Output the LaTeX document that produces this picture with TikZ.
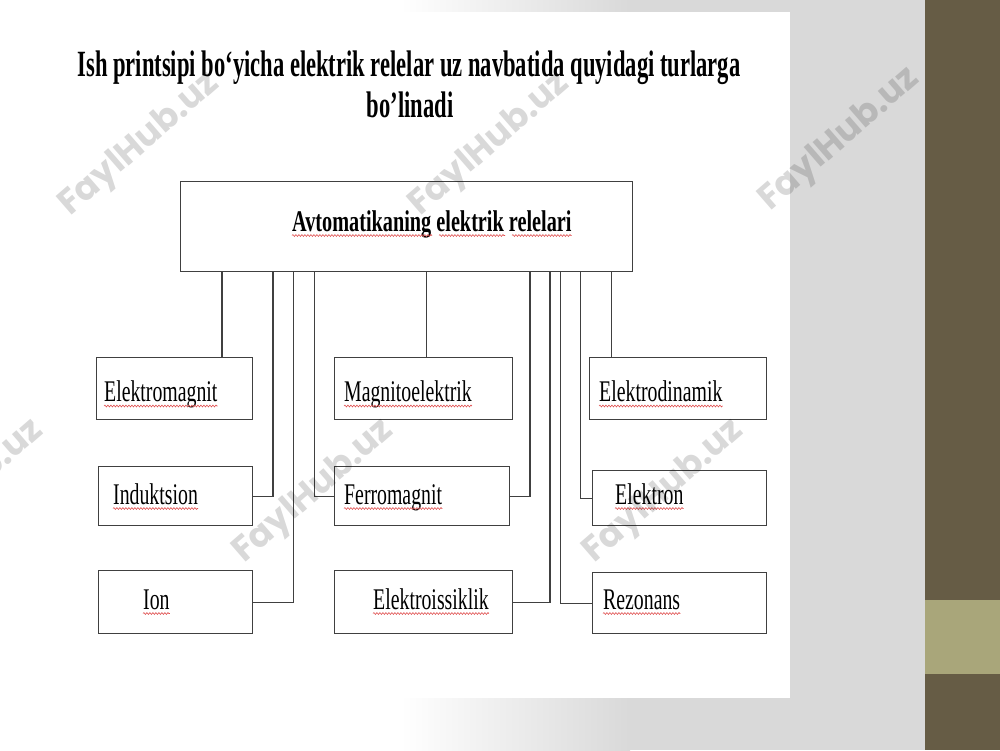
\documentclass[tikz,border=0pt]{standalone}
\usepackage{fontspec}
\setmainfont{Liberation Serif}
\newfontfamily\nar[FakeStretch=0.66]{Liberation Serif}
\newfontfamily\narT[FakeStretch=0.61]{Liberation Serif}
\newfontfamily\narB[FakeStretch=0.675]{Liberation Serif}
\newfontfamily\wmfont{Poppins}
\usetikzlibrary{decorations.pathmorphing}
\definecolor{bg}{HTML}{D9D9D9}
\definecolor{bar}{HTML}{665C45}
\definecolor{barl}{HTML}{A9A67A}
\definecolor{ln}{HTML}{404040}
\definecolor{spell}{HTML}{E05050}
\begin{document}
\begin{tikzpicture}[x=1pt,y=-1pt,
 box/.style={draw=ln,line width=1.4pt,fill=white,inner sep=0pt,anchor=north west},
 lbl/.style={inner sep=0pt,anchor=base west,font=\nar\fontsize{30}{36}\selectfont},
 toplbl/.style={inner sep=0pt,anchor=base west,font=\narB\bfseries\fontsize{30}{36}\selectfont},
 ttl/.style={inner sep=0pt,anchor=base,font=\narT\bfseries\fontsize{37}{44}\selectfont},
 conn/.style={draw=ln,line width=1.4pt},
 wmk/.style={font=\wmfont\bfseries\fontsize{35}{35}\selectfont,text=black,text opacity=0.15,rotate=41,inner sep=0pt},
 spellc/.style={draw=spell,line width=0.6pt,decorate,decoration={snake,segment length=3pt,amplitude=0.9pt}}]
\useasboundingbox (0,0) rectangle (1000,750);
\clip (0,0) rectangle (1000,750);
% background
\fill[bg] (0,0) rectangle (1000,750);
\fill[white] (0,0) rectangle (400,750);
\shade[left color=white,right color=bg] (400,0) rectangle (630,750);
\fill[white] (0,12) rectangle (790,698);
\fill[bar] (925,0) rectangle (1000,750);
\fill[barl] (925,600) rectangle (1000,674);
% title
\node[ttl] (t1) at (409,76) {Ish printsipi bo‘yicha elektrik relelar uz navbatida quyidagi turlarga};
\node[ttl] (t2) at (410,117) {bo’linadi};
% boxes
\node[box,minimum width=452pt,minimum height=90pt] (top) at (180,181) {};
\node[box,minimum width=156pt,minimum height=62pt] (em) at (96,357) {};
\node[box,minimum width=154pt,minimum height=59pt] (ind) at (98,466) {};
\node[box,minimum width=154pt,minimum height=63pt] (ion) at (98,570) {};
\node[box,minimum width=178pt,minimum height=62pt] (mag) at (334,357) {};
\node[box,minimum width=175pt,minimum height=59pt] (fer) at (334,466) {};
\node[box,minimum width=178pt,minimum height=63pt] (eis) at (334,570) {};
\node[box,minimum width=177pt,minimum height=62pt] (edn) at (589,357) {};
\node[box,minimum width=174pt,minimum height=55pt] (etr) at (592,470) {};
\node[box,minimum width=174pt,minimum height=61pt] (rez) at (592,572) {};
% connectors
\draw[conn] ([xshift=42pt]top.south west) -- ([xshift=42pt]top.south west |- em.north);
\draw[conn] ([xshift=93pt]top.south west) |- (ind.east);
\draw[conn] ([xshift=113.7pt]top.south west) |- (ion.east);
\draw[conn] ([xshift=134.3pt]top.south west) |- (fer.west);
\draw[conn] ([xshift=246.7pt]top.south west) -- ([xshift=246.7pt]top.south west |- mag.north);
\draw[conn] ([xshift=350pt]top.south west) |- (fer.east);
\draw[conn] ([xshift=370pt]top.south west) |- (eis.east);
\draw[conn] ([xshift=380.7pt]top.south west) |- (rez.west);
\draw[conn] ([xshift=400.7pt]top.south west) |- (etr.west);
\draw[conn] ([xshift=431.7pt]top.south west) -- ([xshift=431.7pt]top.south west |- edn.north);
% labels
\node[toplbl] (toptxt) at (292,231) {Avtomatikaning elektrik relelari};
\node[lbl] (lem) at (104,401.5) {Elektromagnit};
\node[lbl] (lind) at (113,504) {Induktsion};
\node[lbl] (lion) at (143,609) {Ion};
\node[lbl] (lmag) at (344,401.5) {Magnitoelektrik};
\node[lbl] (lfer) at (344,504) {Ferromagnit};
\node[lbl] (leis) at (373,609) {Elektroissiklik};
\node[lbl] (ledn) at (599,401.5) {Elektrodinamik};
\node[lbl] (letr) at (615,504) {Elektron};
\node[lbl] (lrez) at (603,609) {Rezonans};
% spell-check underlines
\foreach \n in {lem,lind,lion,lmag,lfer,leis,ledn,letr,lrez}
  \draw[spellc] ([yshift=-4.5pt]\n.base west) -- ([yshift=-4.5pt]\n.base east);
\draw[spellc] ([yshift=-4.5pt]toptxt.base west) -- ([yshift=-4.5pt,xshift=140pt]toptxt.base west);
\draw[spellc] ([yshift=-4.5pt,xshift=147pt]toptxt.base west) -- ([yshift=-4.5pt,xshift=213pt]toptxt.base west);
\draw[spellc] ([yshift=-4.5pt,xshift=220pt]toptxt.base west) -- ([yshift=-4.5pt]toptxt.base east);
% watermarks
\node[wmk] (wm1) at (140,145) {FaylHub.uz};
\node[wmk] (wm2) at (490,145) {FaylHub.uz};
\node[wmk] (wm3) at (840,140) {FaylHub.uz};
\node[wmk] (wm4) at (-36,492) {FaylHub.uz};
\node[wmk] (wm5) at (314,492) {FaylHub.uz};
\node[wmk] (wm6) at (664,492) {FaylHub.uz};
\end{tikzpicture}
\end{document}
